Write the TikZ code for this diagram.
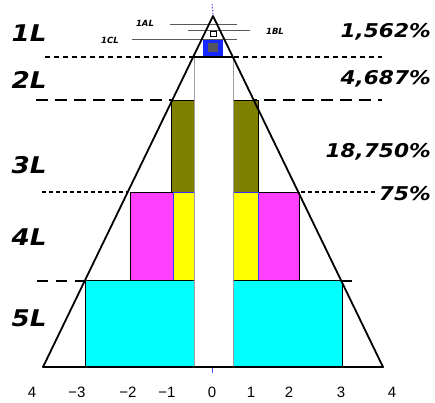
\documentclass[tikz,border=0pt]{standalone}
\usepackage{fontspec}
\setsansfont{DejaVu Sans}
\newfontfamily\pctfont{DejaVu Sans}[FakeStretch=1.14]
\newfontfamily\axisfont{Liberation Sans}
\definecolor{olivebox}{RGB}{128,128,0}
\definecolor{magbox}{RGB}{255,64,255}
\definecolor{yelbox}{RGB}{255,255,0}
\definecolor{cyanbox}{RGB}{0,255,255}
\definecolor{bluebox}{RGB}{20,40,255}
\definecolor{greysq}{RGB}{85,85,95}
\definecolor{stripedge}{RGB}{160,160,160}
\begin{document}
\begin{tikzpicture}[x=1pt,y=-1pt,
  lvl/.style={font=\pctfont\bfseries\itshape\fontsize{23}{23}\selectfont, inner sep=0pt},
  pct/.style={font=\pctfont\bfseries\itshape\fontsize{19}{19}\selectfont, inner sep=0pt, anchor=east},
  small/.style={font=\sffamily\bfseries\itshape\fontsize{8.5}{8.5}\selectfont, inner sep=0pt},
  ax/.style={font=\axisfont\fontsize{15}{15}\selectfont, inner sep=0pt},
  dotsep/.style={line width=2pt, dash pattern=on 5pt off 4pt},
  dotsepthin/.style={line width=1.5pt, dash pattern=on 4pt off 3pt},
  dashsep/.style={line width=2pt, dash pattern=on 12pt off 7pt},
  box/.style={draw=black, line width=1pt},
  thinline/.style={draw=black!65, line width=1pt}]
\useasboundingbox (0,0) rectangle (435,402);
% separator lines
\coordinate (s1a) at (45,57);  \coordinate (s1b) at (382,57);
\coordinate (s2a) at (36,100); \coordinate (s2b) at (382,100);
\coordinate (s3a) at (42,192); \coordinate (s3b) at (377,192);
\coordinate (s4a) at (37,281); \coordinate (s4b) at (357,281);
\draw[dotsep] (s1a) -- (s1b);
\draw[dashsep] (s2a) -- (s2b);
\draw[dotsepthin] (s3a) -- (s3b);
\draw[dashsep, dash pattern=on 11pt off 8pt] (s4a) -- (s4b);
% triangle
\coordinate (apex) at (213,16);
\coordinate (bl) at (43,367);
\coordinate (br) at (383,367);
\fill[white] (apex) -- (bl) -- (br) -- cycle;
% olive
\filldraw[box, fill=olivebox] (171,100) rectangle (194,192);
\filldraw[box, fill=olivebox] (233,100) rectangle (258,192);
% magenta
\filldraw[box, fill=magbox] (130,192) rectangle (173,280);
\filldraw[box, fill=magbox] (258,192) rectangle (299,280);
% yellow
\filldraw[draw=blue!80, line width=1pt, fill=yelbox] (173,192) rectangle (194,280);
\filldraw[draw=blue!80, line width=1pt, fill=yelbox] (233,192) rectangle (258,280);
% cyan
\filldraw[box, fill=cyanbox] (85,280) rectangle (194,367);
\filldraw[box, fill=cyanbox] (233,280) rectangle (342,367);
% white strip
\filldraw[draw=stripedge, line width=1pt, fill=white] (194,57) rectangle (233,367);
% top
\fill[bluebox] (203,39) rectangle (223,56);
\fill[greysq] (208,43) rectangle (218,52);
\filldraw[draw=black, line width=0.8pt, fill=white] (210,31) rectangle (216,36);
\draw[blue!70, line width=1pt, dash pattern=on 1.5pt off 1.5pt] (212,4) -- (apex);
\draw[blue!70, line width=1pt] (212,367) -- (212,373);
% thin lines
\coordinate (la1) at (170,24); \coordinate (la2) at (237,24);
\coordinate (lb1) at (188,30); \coordinate (lb2) at (250,30);
\coordinate (lc1) at (132,39); \coordinate (lc2) at (237,39);
\draw[thinline] (la1) -- (la2);
\draw[thinline] (lb1) -- (lb2);
\draw[thinline] (lc1) -- (lc2);
% triangle outline
\draw[black, line width=1.8pt, line join=round] (apex) -- (bl) -- (br) -- cycle;
\draw[black, line width=1.5pt] (194,57) -- (233,57);
% labels
\node[lvl] (l1) at (29,33) {1L};
\node[lvl] (l2) at (29,80) {2L};
\node[lvl] (l3) at (29,165) {3L};
\node[lvl] (l4) at (29,237) {4L};
\node[lvl] (l5) at (29,318) {5L};
\node[pct] (p1) at (431,32) {1,562\%};
\node[pct] (p2) at (431,79) {4,687\%};
\node[pct] (p3) at (431,152) {18,750\%};
\node[pct] (p4) at (431,194) {75\%};
\node[small] (a1) at (145,23) {1AL};
\node[small] (b1) at (275,31) {1BL};
\node[small] (c1) at (110,40) {1CL};
% axis
\node[ax] (x0) at (32,392) {4};
\node[ax] (x1) at (77,392) {−3};
\node[ax] (x2) at (128,392) {−2};
\node[ax] (x3) at (167,392) {−1};
\node[ax] (x4) at (212,392) {0};
\node[ax] (x5) at (251,392) {1};
\node[ax] (x6) at (289,392) {2};
\node[ax] (x7) at (341,392) {3};
\node[ax] (x8) at (392,392) {4};
\end{tikzpicture}
\end{document}
